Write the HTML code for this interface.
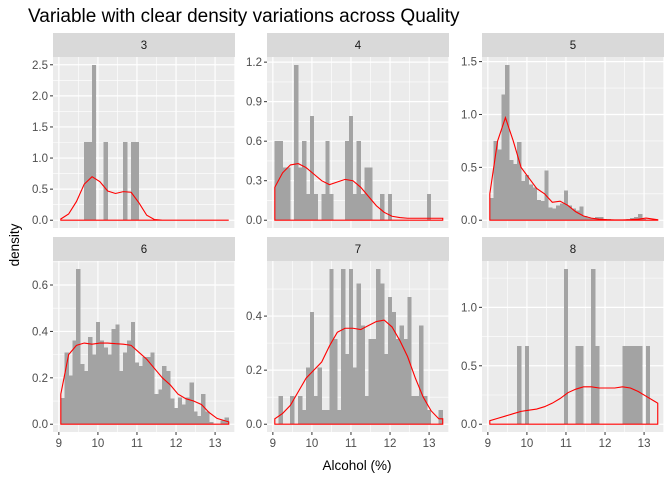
<!DOCTYPE html>
<html><head><meta charset="utf-8"><style>
body{margin:0;background:#fff;}
svg{display:block;font-family:"Liberation Sans",sans-serif;}
</style></head><body>
<svg id="chart" width="672" height="480">
<text x="28" y="22" font-size="19" fill="#000">Variable with clear density variations across Quality</text>
<text x="357" y="470" font-size="13.5" text-anchor="middle" fill="#000">Alcohol (%)</text>
<text transform="translate(19,245) rotate(-90)" font-size="13.5" text-anchor="middle" fill="#000">density</text>
</svg>
<script>
const qualities = ["3","4","5","6","7","8"];
const binStart = 9.05;
const binWidth = 0.1;
const xTicks = [9,10,11,12,13];
const densX = [9.05,9.25,9.45,9.65,9.85,10.05,10.25,10.45,10.65,10.85,11.05,11.25,11.45,11.65,11.85,12.05,12.25,12.45,12.65,12.85,13.05,13.25,13.35];
const bins3 = [0,0,0,0,0,0,1.26,1.26,2.5,0,0,1.26,0,0,0,0,1.26,0,1.26,1.26,0,0,0,0,0,0,0,0,0,0,0,0,0,0,0,0,0,0,0,0,0,0,0];
const bins4 = [0.6,0.6,0.4,0.4,0,1.18,0.4,0.6,0.2,0.79,0.2,0,0.2,0.6,0.2,0,0,0,0.6,0.79,0.2,0.6,0.2,0.4,0.4,0,0,0.2,0,0.2,0,0,0,0,0,0,0,0,0,0.2,0,0,0];
const bins5 = [0.21,0.75,0.67,1.19,1.47,0.57,0.53,0.74,0.37,0.43,0.34,0.31,0.19,0.18,0.47,0.12,0.11,0.14,0.16,0.28,0.14,0.11,0.09,0.13,0.04,0.02,0.02,0.03,0.03,0.01,0.01,0,0,0,0,0.01,0.02,0.03,0.06,0.01,0,0,0];
const bins6 = [0.114,0.31,0.21,0.36,0.67,0.26,0.23,0.375,0.3,0.44,0.36,0.33,0.3,0.41,0.43,0.23,0.31,0.36,0.44,0.265,0.25,0.29,0.29,0.31,0.13,0.15,0.25,0.23,0.11,0.07,0.115,0.085,0.115,0.18,0.055,0.035,0.13,0.055,0.01,0,0,0.017,0.03];
const bins7 = [0,0.105,0,0,0.105,0,0.105,0.053,0.21,0.415,0.105,0.21,0.053,0.053,0.575,0.315,0.053,0.575,0.26,0.575,0.21,0.52,0.365,0.105,0.315,0.315,0.575,0.52,0.26,0.47,0.415,0.315,0.365,0.315,0.47,0.105,0.105,0.365,0.105,0.053,0,0,0.053];
const bins8 = [0,0,0,0,0,0,0,0.67,0,0.67,0,0,0,0,0,0,0,0,0,1.33,0,0,0.67,0.67,0,0,1.33,0.67,0,0,0,0,0,0,0.67,0.67,0.67,0.67,0.67,0,0.67,0,0];
const dens3 = [0.02,0.1,0.3,0.58,0.7,0.62,0.47,0.43,0.46,0.45,0.28,0.08,0.01,0,0,0,0,0,0,0,0,0,0];
const dens4 = [0.25,0.36,0.42,0.43,0.4,0.35,0.3,0.27,0.29,0.31,0.3,0.25,0.18,0.11,0.06,0.03,0.02,0.015,0.015,0.015,0.015,0.015,0.015];
const dens5 = [0.25,0.75,0.97,0.75,0.5,0.4,0.3,0.25,0.17,0.18,0.14,0.08,0.04,0.02,0.01,0.005,0.003,0.003,0.005,0.01,0.02,0.01,0.005];
const dens6 = [0.13,0.3,0.34,0.35,0.345,0.35,0.35,0.347,0.345,0.34,0.31,0.28,0.24,0.2,0.17,0.13,0.11,0.1,0.085,0.05,0.025,0.015,0.01];
const dens7 = [0.02,0.04,0.07,0.12,0.17,0.2,0.23,0.29,0.34,0.355,0.355,0.35,0.365,0.38,0.385,0.36,0.31,0.25,0.17,0.1,0.05,0.02,0.02];
const dens8 = [0.03,0.05,0.07,0.09,0.11,0.12,0.13,0.15,0.18,0.22,0.27,0.3,0.32,0.32,0.31,0.31,0.31,0.32,0.31,0.28,0.24,0.2,0.18];
const yTicks3 = [0,0.5,1.0,1.5,2.0,2.5];
const yTicks4 = [0,0.3,0.6,0.9,1.2];
const yTicks5 = [0,0.5,1.0,1.5];
const yTicks6 = [0,0.2,0.4,0.6];
const yTicks7 = [0,0.2,0.4];
const yTicks8 = [0,0.5,1.0];

const binsAll=[bins3,bins4,bins5,bins6,bins7,bins8];
const densAll=[dens3,dens4,dens5,dens6,dens7,dens8];
const ticksAll=[yTicks3,yTicks4,yTicks5,yTicks6,yTicks7,yTicks8];
const svg=document.getElementById('chart');
const NS='http://www.w3.org/2000/svg';
function mk(tag,attrs,parent){const e=document.createElementNS(NS,tag);for(const k in attrs)e.setAttribute(k,attrs[k]);(parent||svg).appendChild(e);return e;}
const colX=[53,267,482], rowY=[57,261], PW=182, PH=171, XMIN=8.85, XMAX=13.51;
function fmt(v,t){const dec=t.some(x=>Math.round(x)!==x)?1:0;return v.toFixed(dec);}
qualities.forEach((q,i)=>{
  const px=colX[i%3], py=rowY[Math.floor(i/3)];
  const bins=binsAll[i], dens=densAll[i], ticks=ticksAll[i];
  const ymax=Math.max(...bins,...dens);
  const y0=-0.05*ymax, y1=1.05*ymax;
  const sx=v=>px+(v-XMIN)/(XMAX-XMIN)*PW;
  const sy=v=>py+PH-(v-y0)/(y1-y0)*PH;
  const g=mk('g',{});
  
  
  const strip=mk('rect',{x:px,y:py-24,width:PW,height:24,fill:'#d9d9d9'},g);
  
  
  const st=mk('text',{x:px+PW/2,y:py-8,'font-size':11.5,'text-anchor':'middle',fill:'#1a1a1a'},g);
  st.textContent=q;
  
  
  const bg=mk('rect',{x:px,y:py,width:PW,height:PH,fill:'#ebebeb'},g);
  
  
  for(let k=0;k<xTicks.length+1;k++){const v=8.5+k;if(v>XMIN&&v<XMAX)mk('line',{x1:sx(v),x2:sx(v),y1:py,y2:py+PH,stroke:'#fff','stroke-width':0.6},g);}
  const step=ticks[1]-ticks[0];
  for(let k=-1;k<ticks.length+1;k++){const v=ticks[0]+step*(k+0.5);if(v>y0&&v<y1)mk('line',{x1:px,x2:px+PW,y1:sy(v),y2:sy(v),stroke:'#fff','stroke-width':0.6},g);}
  xTicks.forEach(t=>mk('line',{x1:sx(t),x2:sx(t),y1:py,y2:py+PH,stroke:'#fff','stroke-width':1.2},g));
  ticks.forEach(t=>{
    mk('line',{x1:px,x2:px+PW,y1:sy(t),y2:sy(t),stroke:'#fff','stroke-width':1.2},g);
    mk('line',{x1:px-3,x2:px,y1:sy(t),y2:sy(t),stroke:'#333','stroke-width':1},g);
    const tl=mk('text',{x:px-5,y:sy(t)+4,'font-size':11.5,'text-anchor':'end',fill:'#4d4d4d'},g);
    tl.textContent=fmt(t,ticks);
    
    
  });
  bins.forEach((b,k)=>{
    if(b<=0)return;
    const x0=binStart+k*binWidth;
    const r=mk('rect',{x:sx(x0)-0.2,y:sy(b),width:sx(x0+binWidth)-sx(x0)+0.4,height:sy(0)-sy(b),fill:'#a3a3a3','shape-rendering':'crispEdges'},g);
    
    
  });
  let d='M'+sx(densX[0])+','+sy(0);
  densX.forEach((x,k)=>{d+=' L'+sx(x)+','+sy(dens[k]);});
  d+=' L'+sx(densX[densX.length-1])+','+sy(0)+' Z';
  const p=mk('path',{d:d,fill:'none',stroke:'#ff0000','stroke-width':1.1},g);
  
  
  if(i>=3){
    xTicks.forEach(t=>{
      mk('line',{x1:sx(t),x2:sx(t),y1:py+PH,y2:py+PH+3,stroke:'#333','stroke-width':1},g);
      const xl=mk('text',{x:sx(t),y:py+PH+15,'font-size':11.5,'text-anchor':'middle',fill:'#4d4d4d'},g);
      xl.textContent=t;
      
      
    });
  }
});
</script>
</body></html>
